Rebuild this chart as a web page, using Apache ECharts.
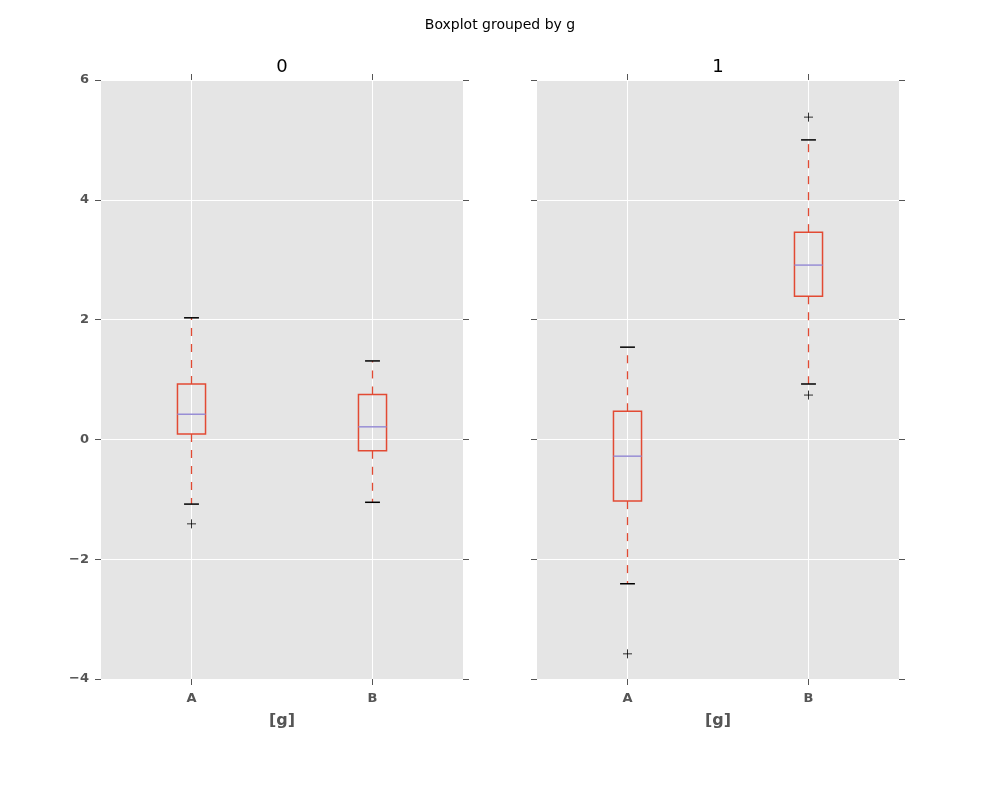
<!DOCTYPE html>
<html><head><meta charset="utf-8">
<script src="https://cdn.jsdelivr.net/npm/echarts@6/dist/echarts.min.js"></script>
<style>html,body{margin:0;padding:0;background:#fff}#c{width:1000px;height:800px}</style>
</head><body><div id="c"></div>
<script>
const categories = ['A', 'B'];
const groupNames = ['0', '1'];
// [low whisker, Q1, median, Q3, high whisker] per category
const group0Stats = [
  [-1.08, 0.09, 0.42, 0.925, 2.03],
  [-1.05, -0.19, 0.21, 0.75, 1.31]
];
const group1Stats = [
  [-2.41, -1.03, -0.28, 0.47, 1.54],
  [0.925, 2.39, 2.91, 3.46, 5.0]
];
// outliers: [category index, value]
const group0Outliers = [[0, -1.41]];
const group1Outliers = [[0, -3.58], [1, 5.38], [1, 0.74]];
const yTicks = { min: -4, max: 6, interval: 2 };

const FONT = 'DejaVu Sans';
const boxColor = '#E24A33', medColor = '#988ED5';

function renderBox(params, api) {
  const x = api.value(0);
  const lo = api.coord([x, api.value(1)]);
  const q1 = api.coord([x, api.value(2)]);
  const md = api.coord([x, api.value(3)]);
  const q3 = api.coord([x, api.value(4)]);
  const hi = api.coord([x, api.value(5)]);
  const band = api.size([1, 0])[0];
  const bw = band * 0.155, cw = bw * 0.53;
  const cx = lo[0];
  const cs = params.coordSys;
  const dash = { stroke: boxColor, lineWidth: 1.3, lineDash: [8, 8] };
  return { type: 'group', children: [
    { type: 'line', shape: { x1: cx, y1: cs.y, x2: cx, y2: cs.y + cs.height }, style: { stroke: '#fff', lineWidth: 1 } },
    { type: 'line', shape: { x1: cx, y1: q3[1], x2: cx, y2: hi[1] }, style: dash },
    { type: 'line', shape: { x1: cx, y1: q1[1], x2: cx, y2: lo[1] }, style: dash },
    { type: 'line', shape: { x1: cx - cw/2, y1: hi[1], x2: cx + cw/2, y2: hi[1] }, style: { stroke: '#000', lineWidth: 1.5 } },
    { type: 'line', shape: { x1: cx - cw/2, y1: lo[1], x2: cx + cw/2, y2: lo[1] }, style: { stroke: '#000', lineWidth: 1.5 } },
    { type: 'rect', shape: { x: cx - bw/2, y: q3[1], width: bw, height: q1[1] - q3[1] }, style: { fill: 'none', stroke: boxColor, lineWidth: 1.5 } },
    { type: 'line', shape: { x1: cx - bw/2, y1: md[1], x2: cx + bw/2, y2: md[1] }, style: { stroke: medColor, lineWidth: 1.5 } }
  ]};
}

const grids = [
  { left: 101, top: 80, width: 362, height: 599 },
  { left: 537, top: 80, width: 362, height: 599 }
];
const xAxes = [], yAxes = [], series = [];
const allStats = [group0Stats, group1Stats];
const allOut = [group0Outliers, group1Outliers];
for (let g = 0; g < 2; g++) {
  xAxes.push({
    type: 'category', gridIndex: g, data: categories, position: 'bottom',
    axisLine: { show: false, onZero: false },
    axisTick: { show: true, alignWithLabel: true, inside: false, length: 6, lineStyle: { color: '#555' } },
    axisLabel: { fontFamily: FONT, fontWeight: 'bold', fontSize: 13, color: '#555', margin: 13 },
    splitLine: { show: false },
    name: '[g]', nameLocation: 'middle', nameGap: 34,
    nameTextStyle: { fontFamily: FONT, fontWeight: 'bold', fontSize: 16, color: '#555' }
  });
  xAxes.push({
    type: 'category', gridIndex: g, data: categories, position: 'top',
    axisLine: { show: false, onZero: false },
    axisTick: { show: true, alignWithLabel: true, length: 6, lineStyle: { color: '#555' } },
    axisLabel: { show: false }, splitLine: { show: false }
  });
  yAxes.push({
    type: 'value', gridIndex: g, position: 'left',
    min: yTicks.min, max: yTicks.max, interval: yTicks.interval,
    axisLine: { show: false, onZero: false },
    axisTick: { show: true, length: 6, lineStyle: { color: '#555' } },
    axisLabel: { show: g === 0, fontFamily: FONT, fontWeight: 'bold', fontSize: 13, color: '#555', margin: 12,
      formatter: v => String(v).replace('-', '\u2212') },
    splitLine: { show: true, lineStyle: { color: '#fff', width: 1 } }
  });
  yAxes.push({
    type: 'value', gridIndex: g, position: 'right',
    min: yTicks.min, max: yTicks.max, interval: yTicks.interval,
    axisLine: { show: false, onZero: false },
    axisTick: { show: true, length: 6, lineStyle: { color: '#555' } },
    axisLabel: { show: false }, splitLine: { show: false }
  });
  series.push({
    type: 'custom', xAxisIndex: g * 2, yAxisIndex: g * 2,
    renderItem: renderBox,
    data: allStats[g].map((s, i) => [i].concat(s)),
    encode: { x: 0, y: [1, 2, 3, 4, 5] },
    silent: true
  });
  series.push({
    type: 'scatter', xAxisIndex: g * 2, yAxisIndex: g * 2,
    symbol: 'path://M0,5L10,5M5,0L5,10', symbolSize: 9,
    itemStyle: { color: 'transparent', borderColor: '#000', borderWidth: 1 },
    data: allOut[g], silent: true, z: 3
  });
}

const chart = echarts.init(document.getElementById('c'));
chart.setOption({
  animation: false,
  backgroundColor: '#fff',
  title: [
    { text: 'Boxplot grouped by g', left: 'center', top: 13, textStyle: { fontFamily: FONT, fontSize: 14, fontWeight: 'normal', color: '#000' } }
  ],
  graphic: [
    { type: 'text', x: 282, y: 67, style: { text: groupNames[0], textAlign: 'center', textVerticalAlign: 'middle', font: '18px "DejaVu Sans"', fill: '#000' } },
    { type: 'text', x: 718, y: 67, style: { text: groupNames[1], textAlign: 'center', textVerticalAlign: 'middle', font: '18px "DejaVu Sans"', fill: '#000' } }
  ],
  grid: grids.map(g => Object.assign({ show: true, backgroundColor: '#e5e5e5', borderWidth: 0 }, g)),
  xAxis: xAxes, yAxis: yAxes, series: series
});
</script></body></html>
